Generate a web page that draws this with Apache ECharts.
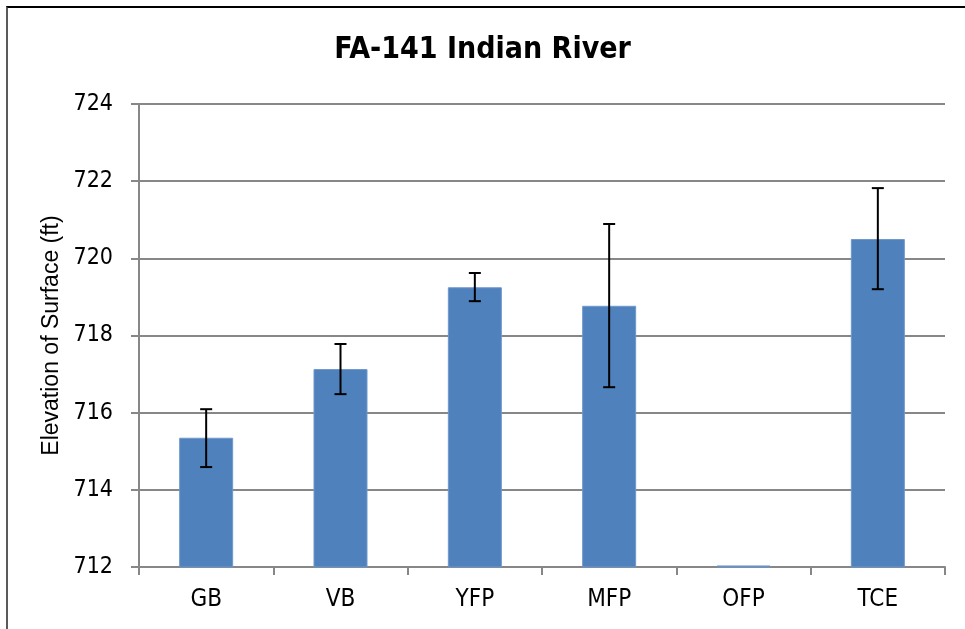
<!DOCTYPE html>
<html>
<head>
<meta charset="utf-8">
<script src="https://cdn.jsdelivr.net/npm/echarts@6/dist/echarts.min.js"></script>
<style>
html,body{margin:0;padding:0;background:#fff;overflow:hidden;}
#chart{position:absolute;left:0;top:0;width:965px;height:629px;}
#frame{position:absolute;left:6px;top:6px;width:1000px;height:700px;border-left:2px solid #5a5a5a;border-top:2px solid #000;box-sizing:border-box;pointer-events:none;}
</style>
</head>
<body>
<div id="chart"></div>
<div id="frame"></div>
<script>
var categories = ['GB', 'VB', 'YFP', 'MFP', 'OFP', 'TCE'];
var means = [715.35, 717.13, 719.25, 718.77, 712.04, 720.50];
var errLow = [714.59, 716.48, 718.89, 716.66, null, 719.20];
var errHigh = [716.09, 717.78, 719.62, 720.89, null, 721.82];
var yTicks = [712, 714, 716, 718, 720, 722, 724];

var narrow = "'Liberation Sans Narrow', 'Arial Narrow', 'DejaVu Sans Condensed', sans-serif";
var errData = [];
for (var i = 0; i < categories.length; i++) {
  if (errLow[i] != null) errData.push([i, errLow[i], errHigh[i]]);
}

var chart = echarts.init(document.getElementById('chart'));
chart.setOption({
  animation: false,
  backgroundColor: '#fff',
  title: {
    text: 'FA-141 Indian River',
    left: 'center',
    top: 30,
    textStyle: {fontFamily: narrow, fontWeight: 'bold', fontSize: 30, color: '#000'}
  },
  grid: {left: 139, right: 20, top: 104, bottom: 62},
  xAxis: {
    type: 'category',
    data: categories,
    axisLine: {lineStyle: {color: '#878787', width: 2}},
    axisTick: {show: true, alignWithLabel: false, length: 8, lineStyle: {color: '#878787', width: 2}},
    axisLabel: {fontFamily: narrow, fontSize: 24, color: '#000', margin: 21}
  },
  yAxis: {
    type: 'value',
    min: yTicks[0],
    max: yTicks[yTicks.length - 1],
    interval: 2,
    name: 'Elevation of Surface (ft)',
    nameLocation: 'middle',
    nameGap: 76,
    nameMoveOverlap: false,
    nameTextStyle: {fontFamily: "'Liberation Sans', Arial, sans-serif", fontSize: 23, color: '#000'},
    axisLine: {show: true, lineStyle: {color: '#878787', width: 2}},
    axisTick: {show: true, length: 8, lineStyle: {color: '#878787', width: 2}},
    axisLabel: {fontFamily: narrow, fontSize: 23, color: '#000', margin: 26},
    splitLine: {show: true, lineStyle: {color: '#878787', width: 2}}
  },
  series: [
    {
      type: 'bar',
      data: means,
      barWidth: 54,
      itemStyle: {color: '#4F81BD', borderColor: '#6f97cb', borderWidth: 1}
    },
    {
      type: 'custom',
      data: errData,
      z: 10,
      renderItem: function (params, api) {
        var x = api.value(0);
        var lo = api.coord([x, api.value(1)]);
        var hi = api.coord([x, api.value(2)]);
        var half = 6;
        var st = {stroke: '#000', lineWidth: 2};
        return {
          type: 'group',
          children: [
            {type: 'line', shape: {x1: lo[0], y1: lo[1], x2: hi[0], y2: hi[1]}, style: st},
            {type: 'line', shape: {x1: hi[0] - half, y1: hi[1], x2: hi[0] + half, y2: hi[1]}, style: st},
            {type: 'line', shape: {x1: lo[0] - half, y1: lo[1], x2: lo[0] + half, y2: lo[1]}, style: st}
          ]
        };
      }
    }
  ]
});
</script>
</body>
</html>
